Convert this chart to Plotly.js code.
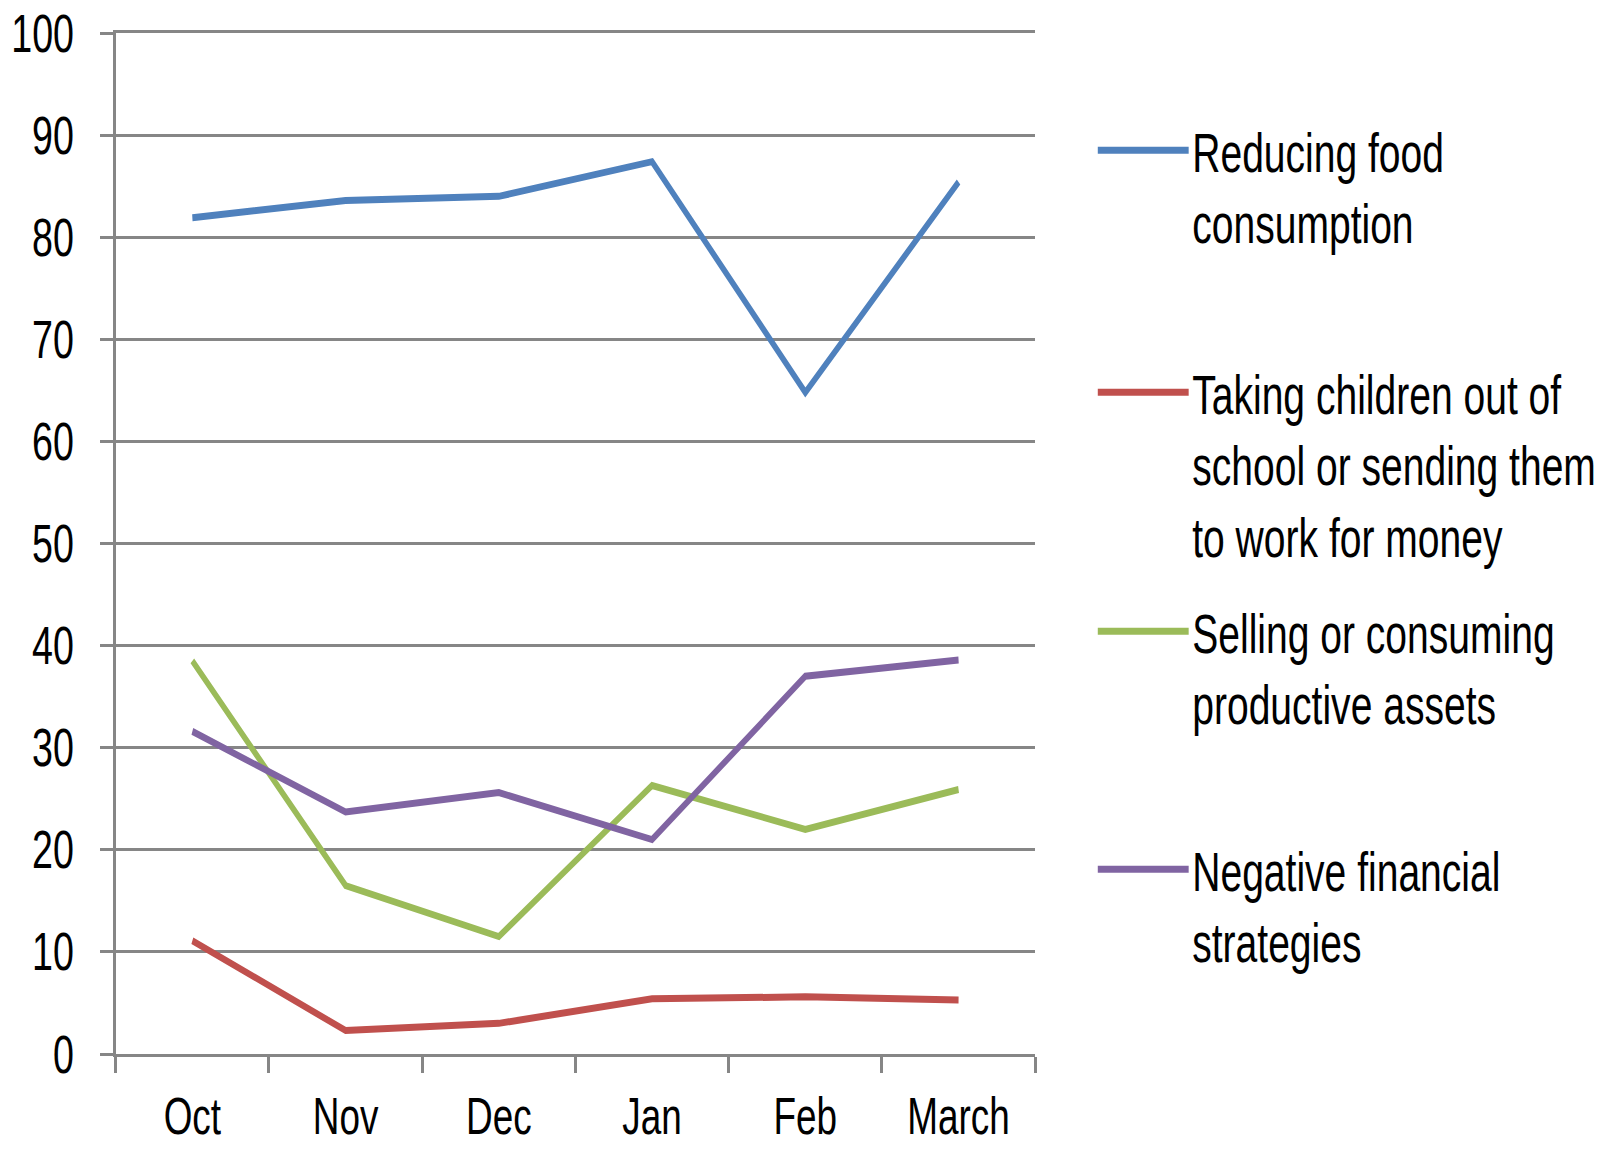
<!DOCTYPE html>
<html>
<head>
<meta charset="utf-8">
<script src="https://cdn.plot.ly/plotly-3.0.1.min.js"></script>
<style>
html,body{margin:0;padding:0;background:#fff;overflow:hidden;width:1615px;height:1149px;}
#wrap{width:1615px;height:1149px;overflow:hidden;position:relative;}
#chart{position:absolute;left:0;top:0;transform-origin:0 0;}
</style>
</head>
<body>
<div id="wrap"><div id="chart"></div></div>
<script>
const months = ["Oct", "Nov", "Dec", "Jan", "Feb", "March"];
const reducingFood = [81.9, 83.6, 84.0, 87.4, 64.8, 85.4];
const takingChildren = [11.1, 2.3, 3.0, 5.4, 5.6, 5.3];
const sellingAssets = [38.5, 16.5, 11.5, 26.3, 22.0, 25.9];
const negativeFinancial = [31.6, 23.7, 25.6, 21.0, 37.0, 38.6];

const seriesNames = [
  "Reducing food<br>consumption",
  "Taking children out of<br>school or sending them<br>to work for money",
  "Selling or consuming<br>productive assets",
  "Negative financial<br>strategies"
];
const seriesColors = ["#4F81BD", "#C0504D", "#9BBB59", "#8064A2"];
const seriesData = [reducingFood, takingChildren, sellingAssets, negativeFinancial];
const legendIds = ["legend", "legend2", "legend3", "legend4"];
const legendTops = [0.9265, 0.6895, 0.4554, 0.2223];

// The reference uses a tall, narrow face: draw wider and compress horizontally.
const SX = 0.71;
const W = Math.round(1615 / SX);
const H = 1149;
const FONT = "'Liberation Sans', Arial, sans-serif";
const GRID = "#868686";

const traces = seriesData.map((vals, i) => ({
  type: "scatter",
  mode: "lines",
  x: months,
  y: vals,
  name: seriesNames[i],
  line: {color: seriesColors[i], width: 7},
  legend: legendIds[i],
  hoverinfo: "x+y"
}));

const left = 116 / SX;
const right = W - 1035 / SX;

const layout = {
  width: W,
  height: H,
  paper_bgcolor: "#ffffff",
  plot_bgcolor: "#ffffff",
  margin: {l: left, r: right, t: 33, b: 95, autoexpand: false},
  font: {family: FONT, size: 53, color: "#000000"},
  xaxis: {
    type: "category",
    categoryorder: "array",
    categoryarray: months,
    range: [-0.5, 5.5],
    showgrid: false,
    zeroline: false,
    showline: true,
    mirror: true,
    linecolor: GRID,
    linewidth: 3,
    ticks: "outside",
    tickson: "boundaries",
    ticklen: 16,
    tickwidth: 4.2,
    tickcolor: GRID,
    tickangle: 0,
    ticklabelstandoff: 15,
    tickfont: {family: FONT, size: 52, color: "#000000"}
  },
  yaxis: {
    range: [0, 100],
    dtick: 10,
    tick0: 0,
    showgrid: true,
    gridcolor: GRID,
    gridwidth: 3,
    zeroline: false,
    showline: true,
    linecolor: GRID,
    linewidth: 4.2,
    ticks: "outside",
    ticklen: 18,
    tickwidth: 3,
    tickcolor: GRID,
    ticklabelstandoff: 26,
    tickfont: {family: FONT, size: 53, color: "#000000"}
  },
  showlegend: true
};

const plotW = W - left - right;
const legendX = (1099 / SX - 7 - left) / plotW;

legendIds.forEach((id, i) => {
  layout[id] = {
    x: legendX,
    xanchor: "left",
    y: legendTops[i],
    yanchor: "top",
    bgcolor: "rgba(0,0,0,0)",
    borderwidth: 0,
    itemwidth: 128,
    valign: "top",
    font: {family: FONT, size: 55, color: "#000000"}
  };
});

const el = document.getElementById("chart");
el.style.width = W + "px";
el.style.height = H + "px";
el.style.transform = "scaleX(" + SX + ")";

Plotly.newPlot(el, traces, layout, {displayModeBar: false, staticPlot: true});
</script>
</body>
</html>
